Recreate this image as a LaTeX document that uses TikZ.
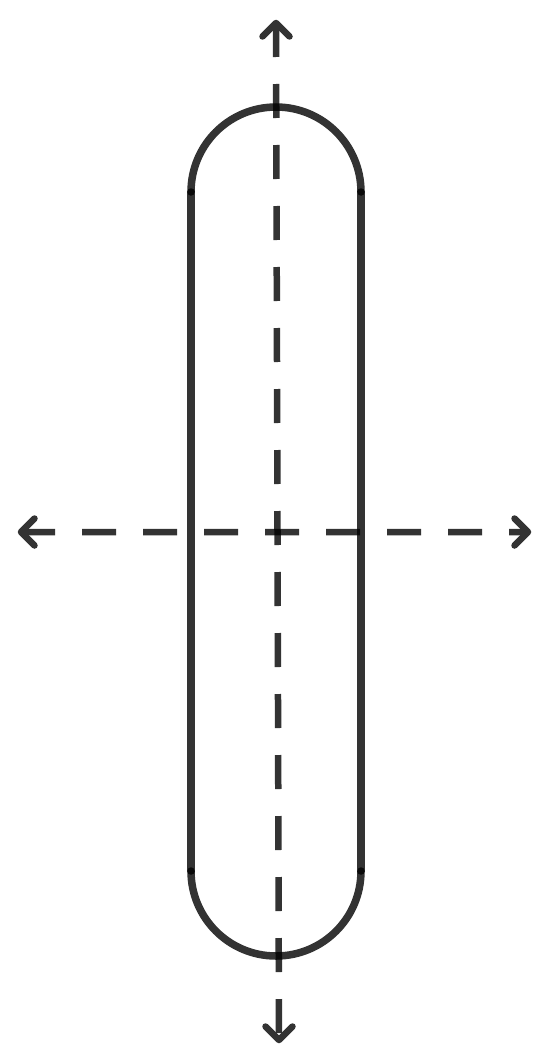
\documentclass[tikz,border=0pt]{standalone}
\usetikzlibrary{calc}
\begin{document}
\begin{tikzpicture}[x=1pt,y=-1pt,
  capsule/.style={line width=7.5pt, draw=black, draw opacity=0.8, line cap=round},
  axisline/.style={line width=6.5pt, draw=black, dash pattern=on 34pt off 27pt, line cap=butt},
  tiphead/.style={line width=6.5pt, draw=black, line cap=round, line join=round}]
\useasboundingbox (0,0) rectangle (555,1057);
\coordinate (L) at (21,532);
\coordinate (R) at (528,532);
\coordinate (T) at (276,23);
\coordinate (B) at (279,1040);
\coordinate (TL) at (191,192);
\coordinate (TR) at (361,192);
\coordinate (BL) at (191,871);
\coordinate (BR) at (361,871);
% capsule
\draw[capsule] (TL) -- (BL);
\draw[capsule] (TR) -- (BR);
\draw[capsule] (TL) arc[start angle=180, end angle=360, radius=85];
\draw[capsule] (BL) arc[start angle=180, end angle=0, radius=85];
% horizontal axis
\begin{scope}[transparency group, opacity=0.8]
\draw[axisline] (L) -- (R);
\draw[tiphead] ($(L)+(13.5,-13.5)$) -- (L) -- ($(L)+(13.5,13.5)$);
\draw[tiphead] ($(R)+(-13.5,-13.5)$) -- (R) -- ($(R)+(-13.5,13.5)$);
\end{scope}
% vertical axis
\begin{scope}[transparency group, opacity=0.8]
\draw[axisline] (T) -- (B);
\draw[tiphead] ($(T)+(-13.5,13.5)$) -- (T) -- ($(T)+(13.5,13.5)$);
\draw[tiphead] ($(B)+(-13.5,-13.5)$) -- (B) -- ($(B)+(13.5,-13.5)$);
\end{scope}
\end{tikzpicture}
\end{document}
